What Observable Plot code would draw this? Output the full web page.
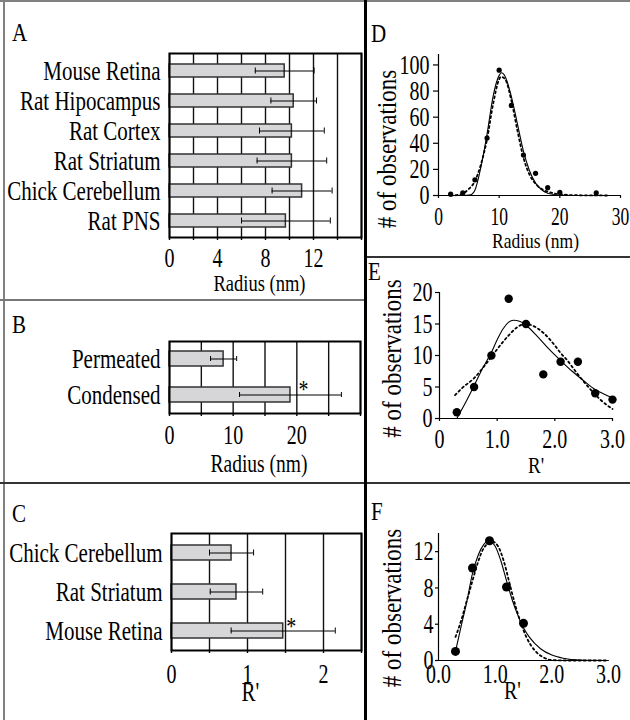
<!DOCTYPE html>
<html><head><meta charset="utf-8">
<script src="https://cdn.jsdelivr.net/npm/d3@7"></script>
<script src="https://cdn.jsdelivr.net/npm/@observablehq/plot@0.6"></script>
<style>
body{margin:0;background:#fff;}
#fig{position:relative;width:630px;height:720px;overflow:hidden;font-family:"Liberation Serif","DejaVu Serif",serif;background:#fff;}
#fig svg, #fig svg text{font-family:"Liberation Serif","DejaVu Serif",serif !important;}
.panel{position:absolute;}
.rule{position:absolute;z-index:5;}
.letter{position:absolute;z-index:6;font-size:21px;line-height:1;transform:scaleY(1.15);transform-origin:left top;color:#000;}
</style></head><body><div id="fig"></div>
<script>
// ---------------- DATA ----------------
// Panel A
const aNames = ["Mouse Retina","Rat Hipocampus","Rat Cortex","Rat Striatum","Chick Cerebellum","Rat PNS"];
const aMean = [9.6, 10.35, 10.2, 10.2, 11.05, 9.7];
const aSD = [2.45, 1.9, 2.7, 2.9, 2.5, 3.7];
const aStar = ["","","","","",""];
const aGrid = [0,2,4,6,8,10,12,14,16];
const aTickLabels = [0,4,8,12];
const aXLabel = "Radius (nm)";
// Panel B
const bNames = ["Permeated","Condensed"];
const bMean = [8.5, 19.0];
const bSD = [2.05, 8.0];
const bStar = ["","*"];
const bGrid = [0,5,10,15,20,25,30];
const bTickLabels = [0,10,20];
const bXLabel = "Radius (nm)";
// Panel C
const cNames = ["Chick Cerebellum","Rat Striatum","Mouse Retina"];
const cMean = [0.79, 0.855, 1.47];
const cSD = [0.29, 0.345, 0.685];
const cStar = ["","","*"];
const cGrid = [0,0.5,1,1.5,2,2.5];
const cTickLabels = [0,1,2];
const cXLabel = "R'";
// Panel D
const dObsX = [2,4,6,8,10,12,14,16,18,20,26];
const dObsY = [1,2,12,44,96,69,31,17,6,2.5,2];
const dSolidX = [4,5,5.5,6,7,8,9,10,10.4,11,12,13,14,15,16,17,18,19,20,22,28];
const dSolidY = [0,0.3,1,4,22,47,76,92,94,91,76,55,34,19,9.5,4.4,1.8,0.8,0.3,0.05,0];
const dDotX = [2,3,4,5,6,7,8,9,10,10.3,11,12,13,14,15,16,17,18,19,20,22,25,28];
const dDotY = [0,0.3,1.5,5,11,24,43,70,89,91,89,73,50,29,16,9,5,3,1.7,1,0.3,0.1,0];
const dXTicks = [0,10,20,30];
const dXTickLabels = ["0","10","20","30"];
const dYTicks = [0,20,40,60,80,100];
const dXLabel = "Radius (nm)";
// Panel E
const eObsX = [0.3,0.6,0.9,1.2,1.5,1.8,2.1,2.4,2.7,3.0];
const eObsY = [1,5,10,19,15,7,9,9,4,3];
const eSolidX = [0.3,0.45,0.6,0.75,0.9,1.0,1.1,1.2,1.28,1.4,1.5,1.7,1.9,2.1,2.3,2.5,2.7,2.85,3.0];
const eSolidY = [0,2.5,5.2,8,10.5,12.5,14.2,15.3,15.6,15.4,14.8,13.0,11.0,9.2,7.5,6.0,4.6,3.9,3.3];
const eDotX = [0.27,0.4,0.6,0.8,0.9,1.0,1.2,1.35,1.48,1.6,1.8,2.0,2.1,2.2,2.4,2.6,2.7,2.8,3.0];
const eDotY = [3.7,4.9,6.4,8.6,9.8,11.0,13.2,14.5,15.0,14.8,13.6,11.6,10.4,9.4,7.0,4.8,3.8,2.9,1.5];
const eXTicks = [0,1,2,3];
const eXTickLabels = ["0","1.0","2.0","3.0"];
const eYTicks = [0,5,10,15,20];
// Panel F
const fObsX = [0.3,0.6,0.9,1.2,1.5];
const fObsY = [1,10.2,13.2,8.1,4.1];
const fSolidX = [0.3,0.4,0.5,0.6,0.7,0.8,0.88,1.0,1.1,1.2,1.3,1.4,1.5,1.6,1.8,2.0,2.2,2.5,3.0];
const fSolidY = [1,3.8,6.5,9.6,11.6,12.8,13.2,12.6,11.0,8.8,6.7,5.0,3.6,2.6,1.3,0.6,0.25,0.05,0];
const fDotX = [0.3,0.4,0.5,0.6,0.7,0.8,0.95,1.05,1.15,1.25,1.35,1.45,1.55,1.7,1.85,2.0,2.3,3.0];
const fDotY = [2.6,4.4,6.6,8.8,10.9,12.4,13.1,12.6,11.0,8.6,6.2,4.2,2.6,1.1,0.35,0.05,0,0];
const fXTicks = [0,1,2,3];
const fXTickLabels = ["0.0","1.0","2.0","3.0"];
const fYTicks = [0,4,8,12];
const yLabel = "# of observations";
const letters = ["A","B","C","D","E","F"];

// ---------------- HELPERS ----------------
const fig = document.getElementById("fig");
const FONT = "Liberation Serif";

function stretchText(svg, scales, def) {
  svg.querySelectorAll("text").forEach(t => {
    const g = t.closest("g[aria-label]");
    const key = g ? g.getAttribute("aria-label") : "";
    const s = scales[key] ?? def;
    const tr = t.getAttribute("transform");
    if (tr) t.setAttribute("transform", tr + ` scale(1,${s})`);
    else { t.style.transformBox = "fill-box"; t.style.transformOrigin = "center"; t.style.transform = `scaleY(${s})`; }
  });
}

function place(node, left, top) {
  const d = document.createElement("div");
  d.className = "panel";
  d.style.left = left + "px"; d.style.top = top + "px";
  d.appendChild(node);
  fig.appendChild(d);
}

function barPanel(o) {
  const rows = o.names.map((n, i) => ({n, m: o.mean[i], lo: o.mean[i] - o.sd[i], hi: o.mean[i] + o.sd[i], star: o.star[i]}));
  const inset = o.capInset;
  const svg = Plot.plot({
    width: o.width, height: o.height,
    marginLeft: o.ml, marginRight: o.mr, marginTop: o.mt, marginBottom: o.mb,
    style: {fontFamily: FONT, fontSize: "20px", color: "#000", background: "transparent", overflow: "visible"},
    x: {domain: o.domain},
    y: {domain: o.names, paddingInner: o.pi, paddingOuter: o.pi / 2},
    marks: [
      Plot.ruleX(o.grid, {stroke: "#111", strokeWidth: 1.4}),
      Plot.barX(rows, {x: "m", y: "n", fill: "#d6d6d9", stroke: "#333", strokeWidth: 1.5}),
      Plot.ruleY(rows, {x1: "lo", x2: "hi", y: "n", stroke: "#000", strokeWidth: 1}),
      Plot.tickX(rows, {x: "lo", y: "n", stroke: "#000", strokeWidth: 1, insetTop: inset, insetBottom: inset}),
      Plot.tickX(rows, {x: "hi", y: "n", stroke: "#000", strokeWidth: 1, insetTop: inset, insetBottom: inset}),
      Plot.frame({stroke: "#000", strokeWidth: 2}),
      Plot.axisX({ticks: o.grid, tickSize: 3, tickPadding: o.tickPad, strokeWidth: 1.4,
        tickFormat: d => o.tickLabels.includes(d) ? String(d) : "", label: null, fontSize: 20}),
      Plot.axisY({tickSize: 0, tickPadding: 9, label: null, fontSize: 21}),
      Plot.text(rows.filter(r => r.star), {x: "m", y: "n", text: "star", dx: o.starDx, dy: o.starDy, fontSize: 20, textAnchor: "middle"}),
      Plot.text([o.xLabel], {frameAnchor: "bottom", dy: o.xLabelDy, dx: o.xLabelDx, lineAnchor: "middle", fontSize: o.xLabelSize})
    ]
  });
  stretchText(svg, {"y-axis tick label": 1.28, "x-axis tick label": 1.38}, 1.3);
  place(svg, o.left, o.top);
}

function curvePanel(o) {
  const pts = o.ox.map((x, i) => ({x, y: o.oy[i]}));
  const sol = o.sx.map((x, i) => ({x, y: o.sy[i]}));
  const dot = o.dx.map((x, i) => ({x, y: o.dy[i]}));
  const fmt = new Map(o.xTicks.map((t, i) => [t, o.xTickLabels[i]]));
  const svg = Plot.plot({
    width: o.width, height: o.height,
    marginLeft: o.ml, marginRight: o.mr, marginTop: o.mt, marginBottom: o.mb,
    style: {fontFamily: FONT, fontSize: "20px", color: "#000", background: "transparent", overflow: "visible"},
    x: {domain: o.xDomain},
    y: {domain: o.yDomain},
    marks: [
      Plot.ruleX([o.xDomain[0]], {stroke: "#000", strokeWidth: 1.2}),
      Plot.ruleY([0], {stroke: "#000", strokeWidth: 1.2}),
      Plot.line(sol, {x: "x", y: "y", curve: "monotone-x", stroke: "#000", strokeWidth: 1.1}),
      Plot.line(dot, {x: "x", y: "y", curve: "monotone-x", stroke: "#000", strokeWidth: 1.8, strokeDasharray: "2,3"}),
      Plot.dot(pts, {x: "x", y: "y", r: o.r, fill: "#000", stroke: "none"}),
      Plot.axisY({ticks: o.yTicks, tickSize: o.yTickSize, tickPadding: o.yTickPad, label: null, fontSize: 20, strokeWidth: 1.2}),
      Plot.axisX({ticks: o.xTicks, tickSize: o.xTickSize, tickPadding: o.xTickPad, tickFormat: d => fmt.get(d), label: null, fontSize: o.xTickFont, strokeWidth: 1.2}),
      Plot.text([o.xLabel], {frameAnchor: "bottom", dy: o.xLabelDy, dx: o.xLabelDx, lineAnchor: "middle", fontSize: o.xLabelSize}),
      Plot.text([yLabel], {frameAnchor: "left", rotate: -90, textAnchor: "middle", lineAnchor: "middle", dx: o.yLabelDx, dy: o.yLabelDy, fontSize: 23})
    ]
  });
  stretchText(svg, {"y-axis tick label": 1.38, "x-axis tick label": 1.38}, 1.22);
  place(svg, o.left, o.top);
}

// ---------------- PANELS ----------------
barPanel({left: 0, top: 0, width: 364, height: 300, ml: 169, mr: 3, mt: 53, mb: 63,
  names: aNames, mean: aMean, sd: aSD, star: aStar, domain: [0, 16], grid: aGrid, tickLabels: aTickLabels,
  pi: 0.58, capInset: 3.5, tickPad: 7, xLabel: aXLabel, xLabelDy: 46, xLabelDx: -6, xLabelSize: 18.5, starDx: 0, starDy: 0});

barPanel({left: 0, top: 300, width: 364, height: 183, ml: 169, mr: 4, mt: 41, mb: 70,
  names: bNames, mean: bMean, sd: bSD, star: bStar, domain: [0, 30], grid: bGrid, tickLabels: bTickLabels,
  pi: 0.57, capInset: 5, tickPad: 8, xLabel: bXLabel, xLabelDy: 50, xLabelDx: -6, xLabelSize: 19.5, starDx: 13, starDy: -5});

barPanel({left: 0, top: 483, width: 364, height: 237, ml: 171, mr: 3, mt: 50, mb: 70,
  names: cNames, mean: cMean, sd: cSD, star: cStar, domain: [0, 2.5], grid: cGrid, tickLabels: cTickLabels,
  pi: 0.62, capInset: 4.5, tickPad: 10, xLabel: cXLabel, xLabelDy: 42, xLabelDx: -16, xLabelSize: 21, starDx: 8, starDy: -4});

curvePanel({left: 367, top: 0, width: 263, height: 256, ml: 71, mr: 10, mt: 54, mb: 61,
  xDomain: [0, 30], yDomain: [0, 108], ox: dObsX, oy: dObsY, sx: dSolidX, sy: dSolidY, dx: dDotX, dy: dDotY,
  xTicks: dXTicks, xTickLabels: dXTickLabels, yTicks: dYTicks, r: 2.6,
  yTickSize: 5, yTickPad: 4, xTickSize: 3, xTickPad: 9, xTickFont: 17.5,
  xLabel: dXLabel, xLabelDy: 46, xLabelDx: 6, xLabelSize: 17.5, yLabelDx: -51, yLabelDy: 24});

curvePanel({left: 367, top: 256, width: 263, height: 226, ml: 72, mr: 18, mt: 36, mb: 64,
  xDomain: [0, 3], yDomain: [0, 20], ox: eObsX, oy: eObsY, sx: eSolidX, sy: eSolidY, dx: eDotX, dy: eDotY,
  xTicks: eXTicks, xTickLabels: eXTickLabels, yTicks: eYTicks, r: 4.2,
  yTickSize: 4, yTickPad: 3, xTickSize: 3, xTickPad: 7, xTickFont: 20,
  xLabel: "R'", xLabelDy: 47, xLabelDx: 10, xLabelSize: 19, yLabelDx: -47, yLabelDy: 3});

curvePanel({left: 367, top: 482, width: 263, height: 238, ml: 71, mr: 22, mt: 51, mb: 60,
  xDomain: [0, 3], yDomain: [0, 14], ox: fObsX, oy: fObsY, sx: fSolidX, sy: fSolidY, dx: fDotX, dy: fDotY,
  xTicks: fXTicks, xTickLabels: fXTickLabels, yTicks: fYTicks, r: 4.5,
  yTickSize: 3, yTickPad: 2, xTickSize: 0, xTickPad: 3, xTickFont: 20,
  xLabel: "R'", xLabelDy: 31, xLabelDx: -11, xLabelSize: 20, yLabelDx: -46, yLabelDy: 11});

// ---------------- FRAME LINES & LETTERS ----------------
const rules = [
  [0, 0, 630, 2, "#808080"],
  [3, 0, 2, 720, "#808080"],
  [364, 0, 3, 720, "#000"],
  [0, 299, 364, 2, "#777"],
  [0, 482, 364, 1.5, "#333"],
  [367, 256, 263, 1.5, "#333"],
  [367, 482, 263, 1.5, "#333"]
];
rules.forEach(([l, t, w, h, c]) => {
  const d = document.createElement("div");
  d.className = "rule";
  Object.assign(d.style, {left: l + "px", top: t + "px", width: w + "px", height: h + "px", background: c});
  fig.appendChild(d);
});
const letterPos = [[12, 21], [12, 313], [12, 502], [371, 22], [368, 260], [371, 500]];
letters.forEach((L, i) => {
  const d = document.createElement("div");
  d.className = "letter";
  d.textContent = L;
  d.style.left = letterPos[i][0] + "px"; d.style.top = letterPos[i][1] + "px";
  fig.appendChild(d);
});
</script>
</body></html>
